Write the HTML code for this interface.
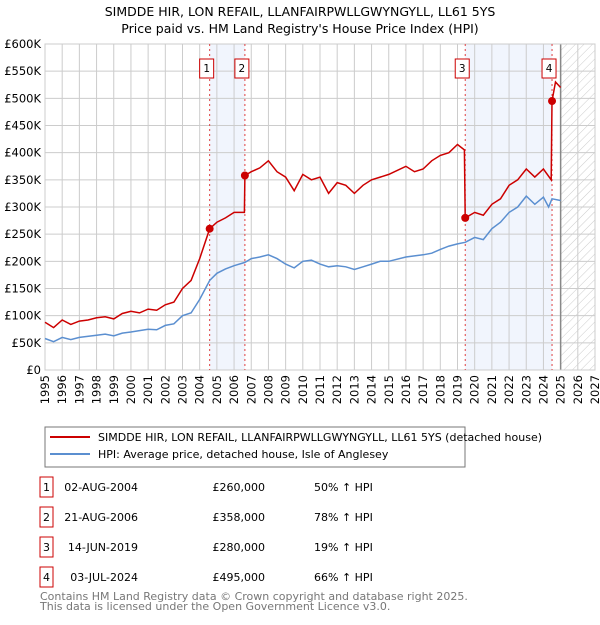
<!DOCTYPE html>
<html><head><meta charset="utf-8"><style>
body{margin:0;background:#fff;font-family:"Liberation Sans","DejaVu Sans",sans-serif;}
svg text{font-family:"DejaVu Sans","Liberation Sans",sans-serif;}
</style></head><body>
<svg id="c" width="600" height="620" xmlns="http://www.w3.org/2000/svg">
<defs><pattern id="hatch" width="6" height="6" patternUnits="userSpaceOnUse" patternTransform="rotate(45)"><line x1="0" y1="0" x2="0" y2="6" stroke="#ccc" stroke-width="1"/></pattern></defs>
<text x="300" y="16" text-anchor="middle" font-size="12.5">SIMDDE HIR, LON REFAIL, LLANFAIRPWLLGWYNGYLL, LL61 5YS</text>
<text x="300" y="33" text-anchor="middle" font-size="12.5">Price paid vs. HM Land Registry's House Price Index (HPI)</text>
<g id="plot"></g>
<rect x="45" y="427" width="420" height="40" fill="#fff" stroke="#777"/>
<line x1="50" y1="437" x2="90" y2="437" stroke="#cc0000" stroke-width="2"/>
<text x="98" y="441" font-size="11">SIMDDE HIR, LON REFAIL, LLANFAIRPWLLGWYNGYLL, LL61 5YS (detached house)</text>
<line x1="50" y1="454" x2="90" y2="454" stroke="#5b8fd0" stroke-width="2"/>
<text x="98" y="458" font-size="11">HPI: Average price, detached house, Isle of Anglesey</text>
<g id="table" font-size="11"></g>
<text x="40" y="600" font-size="11" fill="#777">Contains HM Land Registry data © Crown copyright and database right 2025.</text>
<text x="40" y="610" font-size="11" fill="#777">This data is licensed under the Open Government Licence v3.0.</text>
</svg>
<script>
const hpiX=[1995,1995.5,1996,1996.5,1997,1998,1998.5,1999,1999.5,2000,2001,2001.5,2002,2002.5,2003,2003.5,2004,2004.58,2005,2005.5,2006,2006.63,2007,2007.5,2008,2008.5,2009,2009.5,2010,2010.5,2011,2011.5,2012,2012.5,2013,2013.5,2014,2014.5,2015,2016,2016.5,2017,2017.5,2018,2018.5,2019,2019.45,2020,2020.5,2021,2021.5,2022,2022.5,2023,2023.5,2024,2024.3,2024.5,2025];
const hpiY=[58,52,60,56,60,64,66,63,68,70,75,74,82,85,100,105,130,165,178,186,192,198,205,208,212,205,195,188,200,202,195,190,192,190,185,190,195,200,200,208,210,212,215,222,228,232,235,244,240,260,272,290,300,320,305,318,300,315,312];
const priceX=[1995,1995.5,1996,1996.5,1997,1997.5,1998,1998.5,1999,1999.5,2000,2000.5,2001,2001.5,2002,2002.5,2003,2003.5,2004,2004.58,2005,2005.5,2006,2006.6,2006.63,2007,2007.5,2008,2008.5,2009,2009.5,2010,2010.5,2011,2011.5,2012,2012.5,2013,2013.5,2014,2014.5,2015,2016,2016.5,2017,2017.5,2018,2018.5,2019,2019.4,2019.45,2020,2020.5,2021,2021.5,2022,2022.5,2023,2023.5,2024,2024.45,2024.5,2024.7,2025];
const priceY=[88,78,92,84,90,92,96,98,94,104,108,105,112,110,120,125,150,165,205,260,272,280,290,290,358,365,372,385,365,355,330,360,350,355,325,345,340,325,340,350,355,360,375,365,370,385,395,400,415,405,280,290,285,305,315,340,350,370,355,370,350,495,530,520];
const saleX=[2004.58,2006.63,2019.45,2024.5];
const saleY=[260,358,280,495];
const saleLabels=["1","2","3","4"];
const saleDates=["02-AUG-2004","21-AUG-2006","14-JUN-2019","03-JUL-2024"];
const salePrices=["£260,000","£358,000","£280,000","£495,000"];
const saleHpi=["50% ↑ HPI","78% ↑ HPI","19% ↑ HPI","66% ↑ HPI"];
const yTicks=[0,50,100,150,200,250,300,350,400,450,500,550,600];
const xTicks=[1995,1996,1997,1998,1999,2000,2001,2002,2003,2004,2005,2006,2007,2008,2009,2010,2011,2012,2013,2014,2015,2016,2017,2018,2019,2020,2021,2022,2023,2024,2025,2026,2027];

const NS="http://www.w3.org/2000/svg";
const L=45,R=595,T=44,B=370;
const sx=v=>L+(v-1995)/32*(R-L);
const sy=v=>B-v/600*(B-T);
const plot=document.getElementById('plot');
function mk(tag,attrs,parent){const e=document.createElementNS(NS,tag);for(const k in attrs)e.setAttribute(k,attrs[k]);(parent||plot).appendChild(e);return e;}

let s1=mk('rect',{x:sx(saleX[0]),y:T,width:sx(saleX[1])-sx(saleX[0]),height:B-T,fill:'#eef3fc',opacity:0.8});


let s2=mk('rect',{x:sx(saleX[2]),y:T,width:sx(saleX[3])-sx(saleX[2]),height:B-T,fill:'#eef3fc',opacity:0.8});


let h=mk('rect',{x:sx(2025),y:T,width:R-sx(2025),height:B-T,fill:'url(#hatch)'});



yTicks.forEach(v=>{
 mk('line',{x1:L,x2:R,y1:sy(v),y2:sy(v),stroke:'#ccc'});
 const t=mk('text',{x:L-4,y:sy(v)+4,'text-anchor':'end','font-size':11.5});
 t.textContent=v===0?'£0':'£'+v+'K';
 
 
});
xTicks.forEach(v=>{
 mk('line',{x1:sx(v),x2:sx(v),y1:T,y2:B,stroke:'#ccc'});
 const t=mk('text',{x:0,y:0,'text-anchor':'end','font-size':11.5,transform:`translate(${sx(v)+4},${B+5}) rotate(-90)`});
 t.textContent=v;
 
 
});
mk('line',{x1:sx(2025),x2:sx(2025),y1:T,y2:B,stroke:'#888','stroke-width':1.5});
mk('rect',{x:L,y:T,width:R-L,height:B-T,fill:'none',stroke:'#ccc'});

saleX.forEach((v,i)=>{
 mk('line',{x1:sx(v),x2:sx(v),y1:T,y2:B,stroke:'#e04040','stroke-dasharray':'2,3'});
 const bx=mk('rect',{x:sx(v)-3-7,y:59,width:14,height:19,fill:'#fff',stroke:'#cc0000'});
 
 
 const t=mk('text',{x:sx(v)-3,y:72,'text-anchor':'middle','font-size':10.5});
 t.textContent=saleLabels[i];
});

const pts=(xs,ys)=>xs.map((x,i)=>sx(x).toFixed(1)+','+sy(ys[i]).toFixed(1)).join(' ');
let hl=mk('polyline',{points:pts(hpiX,hpiY),fill:'none',stroke:'#5b8fd0','stroke-width':1.5});


let pl=mk('polyline',{points:pts(priceX,priceY),fill:'none',stroke:'#cc0000','stroke-width':1.5});


saleX.forEach((v,i)=>{
 const c=mk('circle',{cx:sx(v),cy:sy(saleY[i]),r:4,fill:'#cc0000'});
 
 
});

const tb=document.getElementById('table');
saleLabels.forEach((lab,i)=>{
 const y=490+i*30;
 const b=mk('rect',{x:40,y:y-13,width:13,height:20,fill:'#fff',stroke:'#cc0000'},tb);
 
 
 const a=mk('text',{x:46.5,y:y+1,'text-anchor':'middle'},tb);a.textContent=lab;
 const d=mk('text',{x:138,y:y+1,'text-anchor':'end'},tb);d.textContent=saleDates[i];
 
 
 const p=mk('text',{x:265,y:y+1,'text-anchor':'end'},tb);p.textContent=salePrices[i];
 
 
 const q=mk('text',{x:314,y:y+1},tb);q.textContent=saleHpi[i];
 
 
});
</script>
</body></html>
